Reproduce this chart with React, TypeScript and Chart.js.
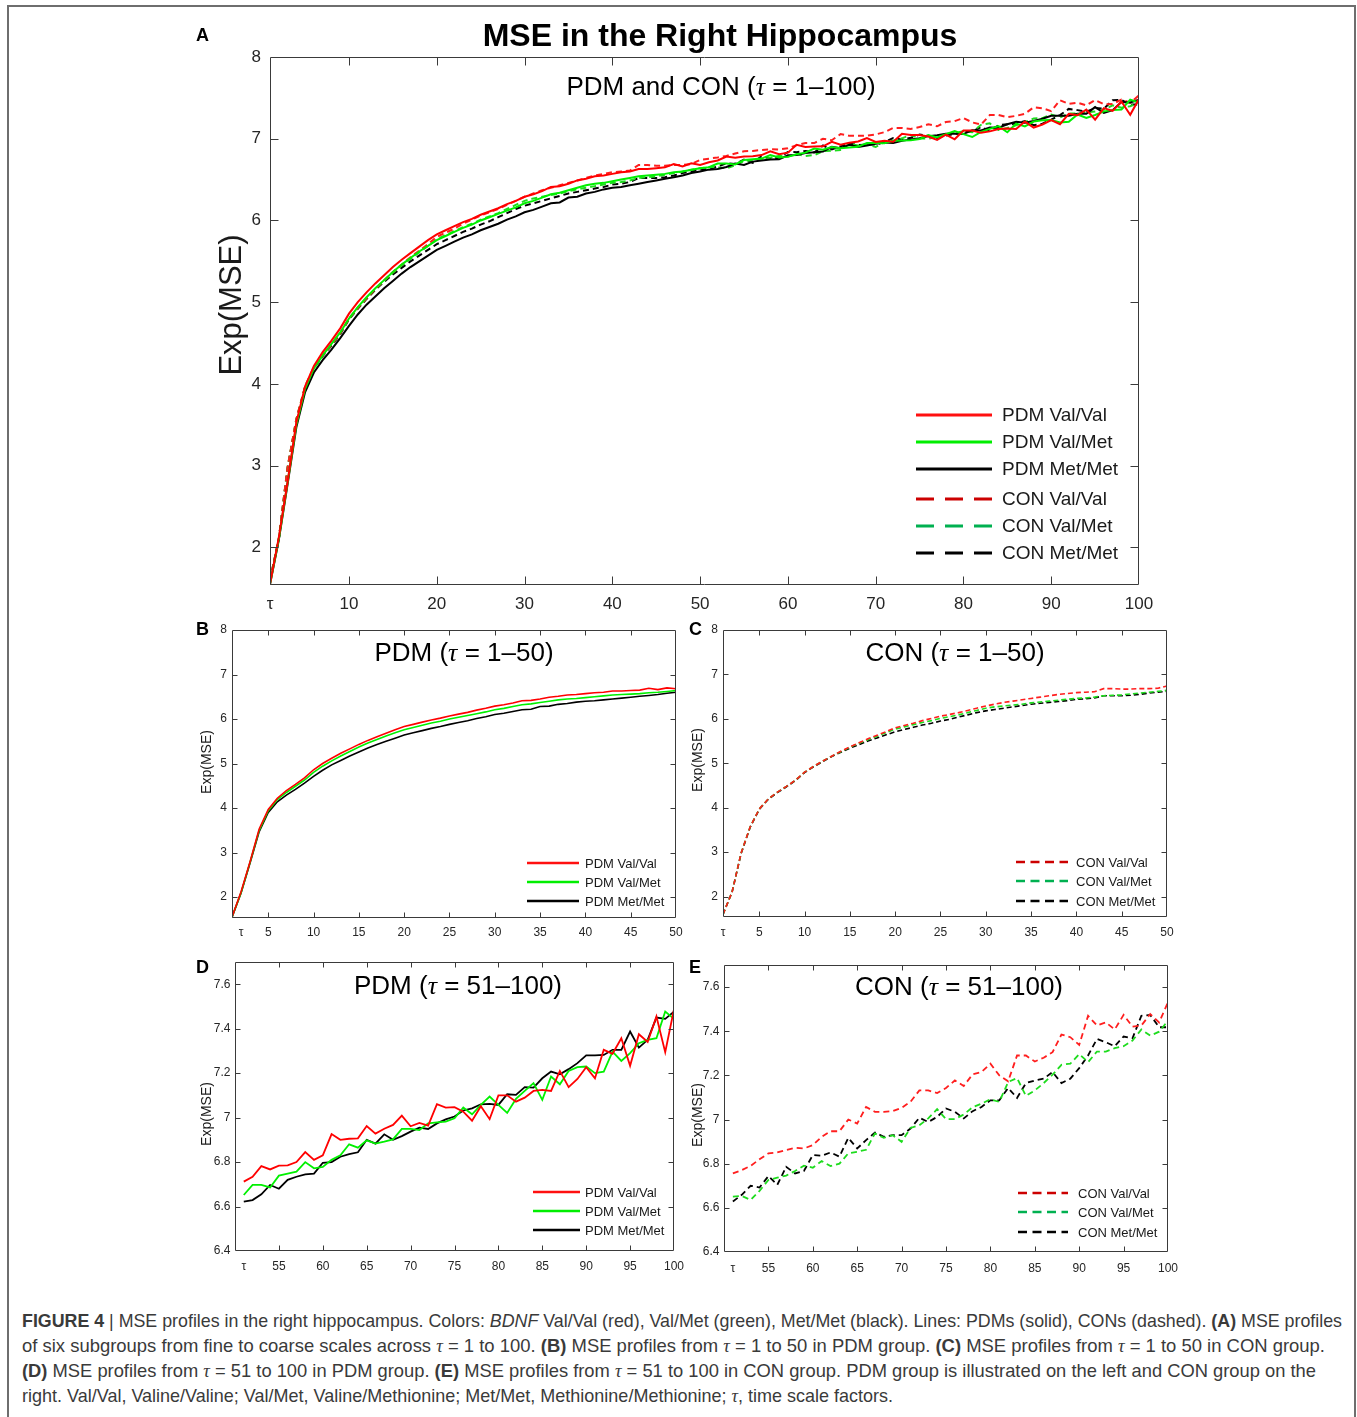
import React, { useEffect, useLayoutEffect, useRef } from 'react';
import { Chart, registerables } from 'chart.js';

Chart.register(...registerables);

const FONT = '"Liberation Sans", Arial, Helvetica, sans-serif';
const SERIF = '"Liberation Serif", "Times New Roman", serif';

// τ (time scale factor) index
const TAU = Array.from({ length: 100 }, (_, i) => i + 1);

// ---- values: τ = 1..50 ----
const PDM_VALVAL_1_50 = [1.55, 2.12, 2.8, 3.53, 3.97, 4.22, 4.39, 4.53, 4.68, 4.86, 5.0, 5.12, 5.23, 5.33, 5.43, 5.52, 5.6, 5.68, 5.76, 5.83, 5.88, 5.93, 5.98, 6.02, 6.07, 6.11, 6.15, 6.2, 6.24, 6.29, 6.32, 6.36, 6.41, 6.42, 6.45, 6.49, 6.51, 6.54, 6.55, 6.57, 6.59, 6.6, 6.63, 6.63, 6.64, 6.65, 6.69, 6.66, 6.7, 6.68];
const PDM_VALMET_1_50 = [1.55, 2.1, 2.79, 3.5, 3.94, 4.19, 4.35, 4.49, 4.63, 4.8, 4.94, 5.06, 5.17, 5.27, 5.37, 5.46, 5.54, 5.62, 5.69, 5.76, 5.81, 5.86, 5.91, 5.95, 6.0, 6.04, 6.08, 6.12, 6.16, 6.21, 6.24, 6.28, 6.32, 6.34, 6.37, 6.4, 6.43, 6.45, 6.46, 6.48, 6.5, 6.52, 6.54, 6.55, 6.56, 6.57, 6.59, 6.6, 6.62, 6.64];
const PDM_METMET_1_50 = [1.55, 2.09, 2.77, 3.47, 3.9, 4.14, 4.29, 4.42, 4.56, 4.71, 4.85, 4.97, 5.07, 5.17, 5.26, 5.35, 5.43, 5.5, 5.57, 5.64, 5.69, 5.74, 5.79, 5.83, 5.88, 5.92, 5.96, 6.01, 6.05, 6.1, 6.13, 6.17, 6.21, 6.22, 6.28, 6.29, 6.33, 6.35, 6.38, 6.4, 6.41, 6.43, 6.45, 6.47, 6.49, 6.51, 6.53, 6.55, 6.58, 6.6];
const CON_VALVAL_1_50 = [1.6, 2.1, 2.98, 3.57, 3.97, 4.2, 4.35, 4.48, 4.62, 4.8, 4.93, 5.05, 5.16, 5.27, 5.37, 5.46, 5.55, 5.63, 5.71, 5.8, 5.85, 5.9, 5.96, 6.01, 6.06, 6.1, 6.14, 6.19, 6.24, 6.29, 6.33, 6.37, 6.4, 6.43, 6.46, 6.49, 6.52, 6.55, 6.57, 6.59, 6.6, 6.61, 6.68, 6.68, 6.67, 6.67, 6.68, 6.68, 6.69, 6.74];
const CON_VALMET_1_50 = [1.6, 2.1, 2.98, 3.57, 3.97, 4.2, 4.35, 4.48, 4.62, 4.8, 4.93, 5.05, 5.16, 5.26, 5.36, 5.45, 5.53, 5.61, 5.69, 5.77, 5.82, 5.87, 5.92, 5.96, 6.01, 6.05, 6.09, 6.14, 6.19, 6.24, 6.27, 6.29, 6.31, 6.33, 6.36, 6.38, 6.4, 6.42, 6.44, 6.46, 6.47, 6.49, 6.52, 6.53, 6.54, 6.56, 6.58, 6.6, 6.62, 6.64];
const CON_METMET_1_50 = [1.6, 2.1, 2.97, 3.56, 3.96, 4.19, 4.34, 4.47, 4.61, 4.79, 4.92, 5.04, 5.15, 5.25, 5.34, 5.42, 5.5, 5.57, 5.64, 5.71, 5.76, 5.81, 5.86, 5.9, 5.95, 5.99, 6.04, 6.09, 6.14, 6.18, 6.21, 6.24, 6.27, 6.3, 6.33, 6.35, 6.37, 6.39, 6.41, 6.44, 6.45, 6.47, 6.52, 6.52, 6.52, 6.53, 6.55, 6.58, 6.6, 6.62];

// ---- values: τ = 51..100 ----
const PDM_VALVAL_51_100 = [6.712, 6.734, 6.782, 6.767, 6.784, 6.785, 6.8, 6.845, 6.81, 6.83, 6.926, 6.9, 6.905, 6.907, 6.962, 6.928, 6.95, 6.967, 7.009, 6.961, 6.976, 6.964, 7.06, 7.045, 7.047, 7.027, 6.986, 7.051, 6.993, 7.1, 7.1, 7.072, 7.09, 7.12, 7.125, 7.12, 7.21, 7.137, 7.174, 7.227, 7.177, 7.305, 7.287, 7.357, 7.233, 7.375, 7.34, 7.455, 7.294, 7.488];
const PDM_VALMET_51_100 = [6.652, 6.697, 6.697, 6.686, 6.739, 6.748, 6.757, 6.8, 6.772, 6.778, 6.81, 6.83, 6.88, 6.865, 6.898, 6.883, 6.892, 6.902, 6.949, 6.949, 6.944, 6.974, 6.979, 6.982, 6.997, 7.045, 7.015, 7.057, 7.095, 7.057, 7.021, 7.084, 7.12, 7.155, 7.08, 7.185, 7.15, 7.21, 7.227, 7.23, 7.2, 7.207, 7.297, 7.255, 7.29, 7.335, 7.35, 7.357, 7.477, 7.444];
const PDM_METMET_51_100 = [6.622, 6.629, 6.655, 6.697, 6.68, 6.72, 6.734, 6.745, 6.748, 6.797, 6.8, 6.824, 6.836, 6.844, 6.9, 6.883, 6.925, 6.9, 6.917, 6.937, 6.955, 6.949, 6.974, 6.992, 7.005, 7.032, 7.042, 7.06, 7.062, 7.057, 7.105, 7.102, 7.137, 7.135, 7.177, 7.207, 7.195, 7.218, 7.245, 7.28, 7.28, 7.282, 7.305, 7.305, 7.387, 7.315, 7.35, 7.45, 7.444, 7.477];
const CON_VALVAL_51_100 = [6.756, 6.771, 6.79, 6.82, 6.847, 6.851, 6.862, 6.872, 6.869, 6.884, 6.922, 6.947, 6.947, 7.0, 6.982, 7.057, 7.035, 7.035, 7.038, 7.053, 7.08, 7.132, 7.132, 7.12, 7.143, 7.177, 7.152, 7.205, 7.215, 7.253, 7.2, 7.173, 7.29, 7.29, 7.263, 7.28, 7.305, 7.385, 7.373, 7.338, 7.47, 7.426, 7.44, 7.408, 7.474, 7.421, 7.426, 7.478, 7.44, 7.531];
const CON_VALMET_51_100 = [6.651, 6.654, 6.636, 6.677, 6.726, 6.737, 6.746, 6.767, 6.791, 6.782, 6.812, 6.789, 6.8, 6.847, 6.854, 6.863, 6.937, 6.917, 6.929, 6.899, 6.962, 6.974, 7.005, 7.047, 7.002, 7.002, 7.023, 7.056, 7.072, 7.092, 7.08, 7.17, 7.188, 7.107, 7.132, 7.165, 7.203, 7.248, 7.253, 7.296, 7.26, 7.308, 7.308, 7.323, 7.332, 7.358, 7.408, 7.38, 7.398, 7.448];
const CON_METMET_51_100 = [6.629, 6.659, 6.7, 6.692, 6.744, 6.704, 6.786, 6.756, 6.767, 6.839, 6.836, 6.851, 6.832, 6.917, 6.869, 6.907, 6.941, 6.922, 6.929, 6.929, 6.959, 7.008, 6.989, 7.012, 7.05, 7.035, 7.005, 7.038, 7.057, 7.087, 7.087, 7.143, 7.098, 7.165, 7.177, 7.185, 7.215, 7.165, 7.185, 7.233, 7.29, 7.365, 7.35, 7.332, 7.376, 7.368, 7.47, 7.474, 7.418, 7.418];

// ---- tick labels ----
const X_TICKS_A = [1, 10, 20, 30, 40, 50, 60, 70, 80, 90, 100];
const X_TICKS_B = [2, 5, 10, 15, 20, 25, 30, 35, 40, 45, 50];
const X_TICKS_C = [1, 5, 10, 15, 20, 25, 30, 35, 40, 45, 50];
const X_TICKS_DE = [51, 55, 60, 65, 70, 75, 80, 85, 90, 95, 100];
const Y_TICKS_LOW = [2, 3, 4, 5, 6, 7, 8];
const Y_TICKS_HIGH = [6.4, 6.6, 6.8, 7, 7.2, 7.4, 7.6];

type Series = { label: string; color: string; legendColor: string; dashed: boolean; low: number[]; high: number[] };

const SERIES: Series[] = [
  { label: 'PDM Val/Val', color: '#FF0000', legendColor: '#FF1010', dashed: false, low: PDM_VALVAL_1_50, high: PDM_VALVAL_51_100 },
  { label: 'PDM Val/Met', color: '#00F000', legendColor: '#00EE00', dashed: false, low: PDM_VALMET_1_50, high: PDM_VALMET_51_100 },
  { label: 'PDM Met/Met', color: '#000000', legendColor: '#000000', dashed: false, low: PDM_METMET_1_50, high: PDM_METMET_51_100 },
  { label: 'CON Val/Val', color: '#FF1E1E', legendColor: '#CC0000', dashed: true, low: CON_VALVAL_1_50, high: CON_VALVAL_51_100 },
  { label: 'CON Val/Met', color: '#1EDC1E', legendColor: '#00B050', dashed: true, low: CON_VALMET_1_50, high: CON_VALMET_51_100 },
  { label: 'CON Met/Met', color: '#000000', legendColor: '#000000', dashed: true, low: CON_METMET_1_50, high: CON_METMET_51_100 },
];

type Legend = { x: number; len: number; tx: number; ys: number[]; font: number; lw: number; dash: number[] };
type Panel = {
  id: string; left: number; top: number; width: number; height: number;
  yw: number; xh: number; pt: number; pr: number;
  xMin: number; xMax: number; yMin: number; yMax: number;
  xTicks: number[]; tauTick: number; yTicks: number[];
  series: number[]; range: 'all' | 'low' | 'high';
  tickFont: number; yPad: number; xPad: number; tickLen: number;
  titleFont: number; titleX: number; titleY: number;
  lineWidth: number; dash: number[];
  legend: Legend;
};

const PANELS: Panel[] = [
  {
    id: 'A', left: 190, top: 37, width: 973, height: 583, yw: 80, xh: 35, pt: 20, pr: 24,
    xMin: 1, xMax: 100, yMin: 1.54, yMax: 8, xTicks: X_TICKS_A, tauTick: 1, yTicks: Y_TICKS_LOW,
    series: [0, 1, 2, 3, 4, 5], range: 'all', tickFont: 17, yPad: 9, xPad: 9, tickLen: 8,
    titleFont: 31, titleX: 232, titleY: 305, lineWidth: 2, dash: [6, 4],
    legend: { x: 916, len: 76, tx: 1002, ys: [415, 442, 469, 499, 526, 553], font: 19, lw: 3, dash: [18, 11] },
  },
  {
    id: 'B', left: 190, top: 616, width: 501, height: 329, yw: 42, xh: 27, pt: 14, pr: 15,
    xMin: 1, xMax: 50, yMin: 1.53, yMax: 8, xTicks: X_TICKS_B, tauTick: 2, yTicks: Y_TICKS_LOW,
    series: [0, 1, 2], range: 'low', tickFont: 12, yPad: 5, xPad: 7, tickLen: 5,
    titleFont: 14, titleX: 207, titleY: 762, lineWidth: 1.6, dash: [5, 3],
    legend: { x: 527, len: 52, tx: 585, ys: [863, 882, 901], font: 13, lw: 2.5, dash: [9, 5.5] },
  },
  {
    id: 'C', left: 680, top: 616, width: 503, height: 329, yw: 43, xh: 28, pt: 14, pr: 16,
    xMin: 1, xMax: 50, yMin: 1.54, yMax: 8, xTicks: X_TICKS_C, tauTick: 1, yTicks: Y_TICKS_LOW,
    series: [3, 4, 5], range: 'low', tickFont: 12, yPad: 5, xPad: 8, tickLen: 5,
    titleFont: 14, titleX: 698, titleY: 760, lineWidth: 1.6, dash: [5, 3],
    legend: { x: 1016, len: 52, tx: 1076, ys: [862, 881, 901], font: 13, lw: 2.5, dash: [9, 5.5] },
  },
  {
    id: 'D', left: 190, top: 948, width: 503, height: 332, yw: 45, xh: 29, pt: 14, pr: 19,
    xMin: 50, xMax: 100, yMin: 6.4, yMax: 7.7, xTicks: X_TICKS_DE, tauTick: 51, yTicks: Y_TICKS_HIGH,
    series: [0, 1, 2], range: 'high', tickFont: 12, yPad: 4.5, xPad: 8, tickLen: 5,
    titleFont: 14, titleX: 207, titleY: 1114, lineWidth: 1.8, dash: [6, 4],
    legend: { x: 533, len: 47, tx: 585, ys: [1192, 1211, 1230], font: 13, lw: 2.5, dash: [9, 5.5] },
  },
  {
    id: 'E', left: 680, top: 951, width: 508, height: 329, yw: 44, xh: 28, pt: 14, pr: 20,
    xMin: 50, xMax: 100, yMin: 6.4, yMax: 7.7, xTicks: X_TICKS_DE, tauTick: 51, yTicks: Y_TICKS_HIGH,
    series: [3, 4, 5], range: 'high', tickFont: 12, yPad: 4.5, xPad: 9, tickLen: 5,
    titleFont: 14, titleX: 698, titleY: 1115, lineWidth: 1.8, dash: [6, 4],
    legend: { x: 1018, len: 50, tx: 1078, ys: [1193, 1212, 1232], font: 13, lw: 2.5, dash: [9, 5.5] },
  },
];

function seriesData(s: Series, range: 'all' | 'low' | 'high') {
  const vals = range === 'all' ? [...s.low, ...s.high] : range === 'low' ? s.low : s.high;
  const taus = range === 'all' ? TAU : range === 'low' ? TAU.slice(0, 50) : TAU.slice(50);
  return taus.map((t, i) => ({ x: t, y: vals[i] }));
}

function fmtY(v: number) {
  return String(Number(v.toFixed(1)));
}

function makeBoxPlugin(p: Panel) {
  return {
    id: 'matlabBox' + p.id,
    afterDraw(chart: any) {
      const { ctx, chartArea: a } = chart;
      const xs = chart.scales.x;
      const ys = chart.scales.y;
      ctx.save();
      ctx.setLineDash([]);
      ctx.strokeStyle = '#3a3a3a';
      ctx.lineWidth = 1;
      const L = Math.round(a.left) + 0.5;
      const R = Math.round(a.right) - 0.5;
      const T = Math.round(a.top) + 0.5;
      const B = Math.round(a.bottom) - 0.5;
      ctx.beginPath();
      ctx.rect(L, T, R - L, B - T);
      for (const t of xs.ticks) {
        if (t.value === p.tauTick) continue;
        const px = Math.round(xs.getPixelForValue(t.value)) + 0.5;
        if (px <= L + 1 || px >= R - 1) continue;
        ctx.moveTo(px, B); ctx.lineTo(px, B - p.tickLen);
        ctx.moveTo(px, T); ctx.lineTo(px, T + p.tickLen);
      }
      for (const t of ys.ticks) {
        const py = Math.round(ys.getPixelForValue(t.value)) + 0.5;
        if (py <= T + 1 || py >= B - 1) continue;
        ctx.moveTo(L, py); ctx.lineTo(L + p.tickLen, py);
        ctx.moveTo(R, py); ctx.lineTo(R - p.tickLen, py);
      }
      ctx.stroke();

      // y-axis title
      ctx.save();
      ctx.translate(p.titleX - p.left, p.titleY - p.top);
      ctx.rotate(-Math.PI / 2);
      ctx.font = `${p.titleFont}px ${FONT}`;
      ctx.fillStyle = '#1a1a1a';
      ctx.textAlign = 'center';
      ctx.textBaseline = 'middle';
      ctx.fillText(chart.options.scales.y.title.text, 0, 0);
      ctx.restore();

      // legend
      const lg = p.legend;
      ctx.font = `${lg.font}px ${FONT}`;
      ctx.textBaseline = 'middle';
      ctx.textAlign = 'left';
      chart.data.datasets.forEach((ds: any, i: number) => {
        const s = SERIES[p.series[i]];
        const y = lg.ys[i] - p.top;
        const x0 = lg.x - p.left;
        ctx.beginPath();
        ctx.strokeStyle = s.legendColor;
        ctx.lineWidth = lg.lw;
        ctx.setLineDash(s.dashed ? lg.dash : []);
        ctx.moveTo(x0, y);
        ctx.lineTo(x0 + lg.len, y);
        ctx.stroke();
        ctx.fillStyle = '#1a1a1a';
        ctx.fillText(ds.label, lg.tx - p.left, y + 1);
      });
      ctx.restore();
    },
  };
}

function PanelChart({ p }: { p: Panel }) {
  const ref = useRef<HTMLCanvasElement>(null);
  useEffect(() => {
    const canvas = ref.current;
    if (!canvas) return;
    const chart = new Chart(canvas, {
      type: 'line',
      data: {
        datasets: p.series.map((si) => {
          const s = SERIES[si];
          return {
            label: s.label,
            data: seriesData(s, p.range),
            borderColor: s.color,
            backgroundColor: s.color,
            borderWidth: p.lineWidth,
            borderDash: s.dashed ? p.dash : [],
            pointRadius: 0,
            pointHoverRadius: 0,
            tension: 0,
            fill: false,
          };
        }),
      },
      options: {
        animation: false,
        responsive: false,
        maintainAspectRatio: false,
        devicePixelRatio: 1,
        events: [],
        layout: { padding: { left: 0, top: p.pt, right: p.pr, bottom: 0 } },
        plugins: { legend: { display: false }, tooltip: { enabled: false }, title: { display: false } },
        scales: {
          x: {
            type: 'linear',
            min: p.xMin,
            max: p.xMax,
            afterBuildTicks: (axis: any) => { axis.ticks = p.xTicks.map((v) => ({ value: v })); },
            afterFit: (axis: any) => { axis.height = p.xh; },
            ticks: {
              autoSkip: false,
              maxRotation: 0,
              padding: p.xPad,
              color: '#262626',
              font: { family: FONT, size: p.tickFont },
              callback: (v: any) => (v === p.tauTick ? 'τ' : String(v)),
            },
            grid: { display: false, drawTicks: false },
            border: { display: false },
          },
          y: {
            type: 'linear',
            min: p.yMin,
            max: p.yMax,
            afterBuildTicks: (axis: any) => { axis.ticks = p.yTicks.map((v) => ({ value: v })); },
            afterFit: (axis: any) => { axis.width = p.yw; },
            ticks: {
              autoSkip: false,
              padding: p.yPad,
              color: '#262626',
              font: { family: FONT, size: p.tickFont },
              callback: (v: any) => fmtY(Number(v)),
            },
            grid: { display: false, drawTicks: false },
            border: { display: false },
            // drawn by the box plugin at the reference position
            title: { display: false, text: 'Exp(MSE)' },
          },
        },
      } as any,
      plugins: [makeBoxPlugin(p)],
    });
    return () => chart.destroy();
  }, [p]);
  return (
    <canvas
      ref={ref}
      width={p.width}
      height={p.height}
      style={{ position: 'absolute', left: p.left, top: p.top, width: p.width, height: p.height }}
    />
  );
}

const Tau = () => <span style={{ fontFamily: SERIF, fontStyle: 'italic' }}>τ</span>;

function Subtitle({ cx, baseline, pre, post }: { cx: number; baseline: number; pre: string; post: string }) {
  const size = 26;
  return (
    <div
      style={{
        position: 'absolute', left: cx - 300, width: 600, top: baseline - 0.8465 * size,
        textAlign: 'center', fontFamily: FONT, fontSize: size, lineHeight: `${size}px`, color: '#000', whiteSpace: 'nowrap',
      }}
    >
      {pre}<Tau />{post}
    </div>
  );
}

function Letter({ x, baseline, text }: { x: number; baseline: number; text: string }) {
  const size = 18;
  return (
    <div
      style={{
        position: 'absolute', left: x, top: baseline - 0.8465 * size, fontFamily: FONT, fontWeight: 'bold',
        fontSize: size, lineHeight: `${size}px`, color: '#000',
      }}
    >
      {text}
    </div>
  );
}

const CAP_FONT = '"Liberation Sans Narrow", "Arial Narrow", "Liberation Sans", Arial, sans-serif';
const CAP_LINE_WIDTHS = [1320, 1303, 1294, 871];

function CapLine({ idx, children }: { idx: number; children: React.ReactNode }) {
  const lineRef = useRef<HTMLDivElement>(null);
  const spanRef = useRef<HTMLSpanElement>(null);
  useLayoutEffect(() => {
    const line = lineRef.current;
    const span = spanRef.current;
    if (!line || !span) return;
    const w = span.getBoundingClientRect().width;
    if (w > 0) line.style.transform = `scaleX(${CAP_LINE_WIDTHS[idx] / w})`;
  }, [idx]);
  return (
    <div ref={lineRef} style={{ height: 25, whiteSpace: 'nowrap', transformOrigin: '0 0' }}>
      <span ref={spanRef}>{children}</span>
    </div>
  );
}

function Caption() {
  return (
    <div
      style={{
        position: 'absolute', left: 22, top: 1308, width: 1700, fontFamily: CAP_FONT, fontSize: 19,
        lineHeight: '25px', color: '#3a3a3a',
      }}
    >
      <CapLine idx={0}>
        <b>FIGURE 4</b> | MSE profiles in the right hippocampus. Colors: <i>BDNF</i> Val/Val (red), Val/Met (green), Met/Met (black). Lines: PDMs (solid), CONs (dashed). <b>(A)</b> MSE profiles
      </CapLine>
      <CapLine idx={1}>
        of six subgroups from fine to coarse scales across <Tau /> = 1 to 100. <b>(B)</b> MSE profiles from <Tau /> = 1 to 50 in PDM group. <b>(C)</b> MSE profiles from <Tau /> = 1 to 50 in CON group.
      </CapLine>
      <CapLine idx={2}>
        <b>(D)</b> MSE profiles from <Tau /> = 51 to 100 in PDM group. <b>(E)</b> MSE profiles from <Tau /> = 51 to 100 in CON group. PDM group is illustrated on the left and CON group on the
      </CapLine>
      <CapLine idx={3}>
        right. Val/Val, Valine/Valine; Val/Met, Valine/Methionine; Met/Met, Methionine/Methionine; <Tau />, time scale factors.
      </CapLine>
    </div>
  );
}

export default function App() {
  return (
    <div style={{ position: 'absolute', left: 0, top: 0, width: 1357, height: 1417, overflow: 'hidden', background: '#fff' }}>
      <div
        style={{
          position: 'absolute', left: 7, top: 5, width: 1349, height: 1440, border: '2px solid #6e6e6e', boxSizing: 'border-box',
        }}
      />
      {PANELS.map((p) => <PanelChart key={p.id} p={p} />)}

      <div
        style={{
          position: 'absolute', left: 320, width: 800, top: 46 - 0.8465 * 32, textAlign: 'center', fontFamily: FONT,
          fontWeight: 'bold', fontSize: 32, lineHeight: '32px', color: '#000', whiteSpace: 'nowrap',
        }}
      >
        MSE in the Right Hippocampus
      </div>

      <Subtitle cx={721} baseline={95} pre="PDM and CON (" post=" = 1–100)" />
      <Subtitle cx={464} baseline={661} pre="PDM (" post=" = 1–50)" />
      <Subtitle cx={955} baseline={661} pre="CON (" post=" = 1–50)" />
      <Subtitle cx={458} baseline={994} pre="PDM (" post=" = 51–100)" />
      <Subtitle cx={959} baseline={995} pre="CON (" post=" = 51–100)" />

      <Letter x={196} baseline={41} text="A" />
      <Letter x={196} baseline={635} text="B" />
      <Letter x={689} baseline={635} text="C" />
      <Letter x={196} baseline={973} text="D" />
      <Letter x={689} baseline={973} text="E" />

      <Caption />
    </div>
  );
}
